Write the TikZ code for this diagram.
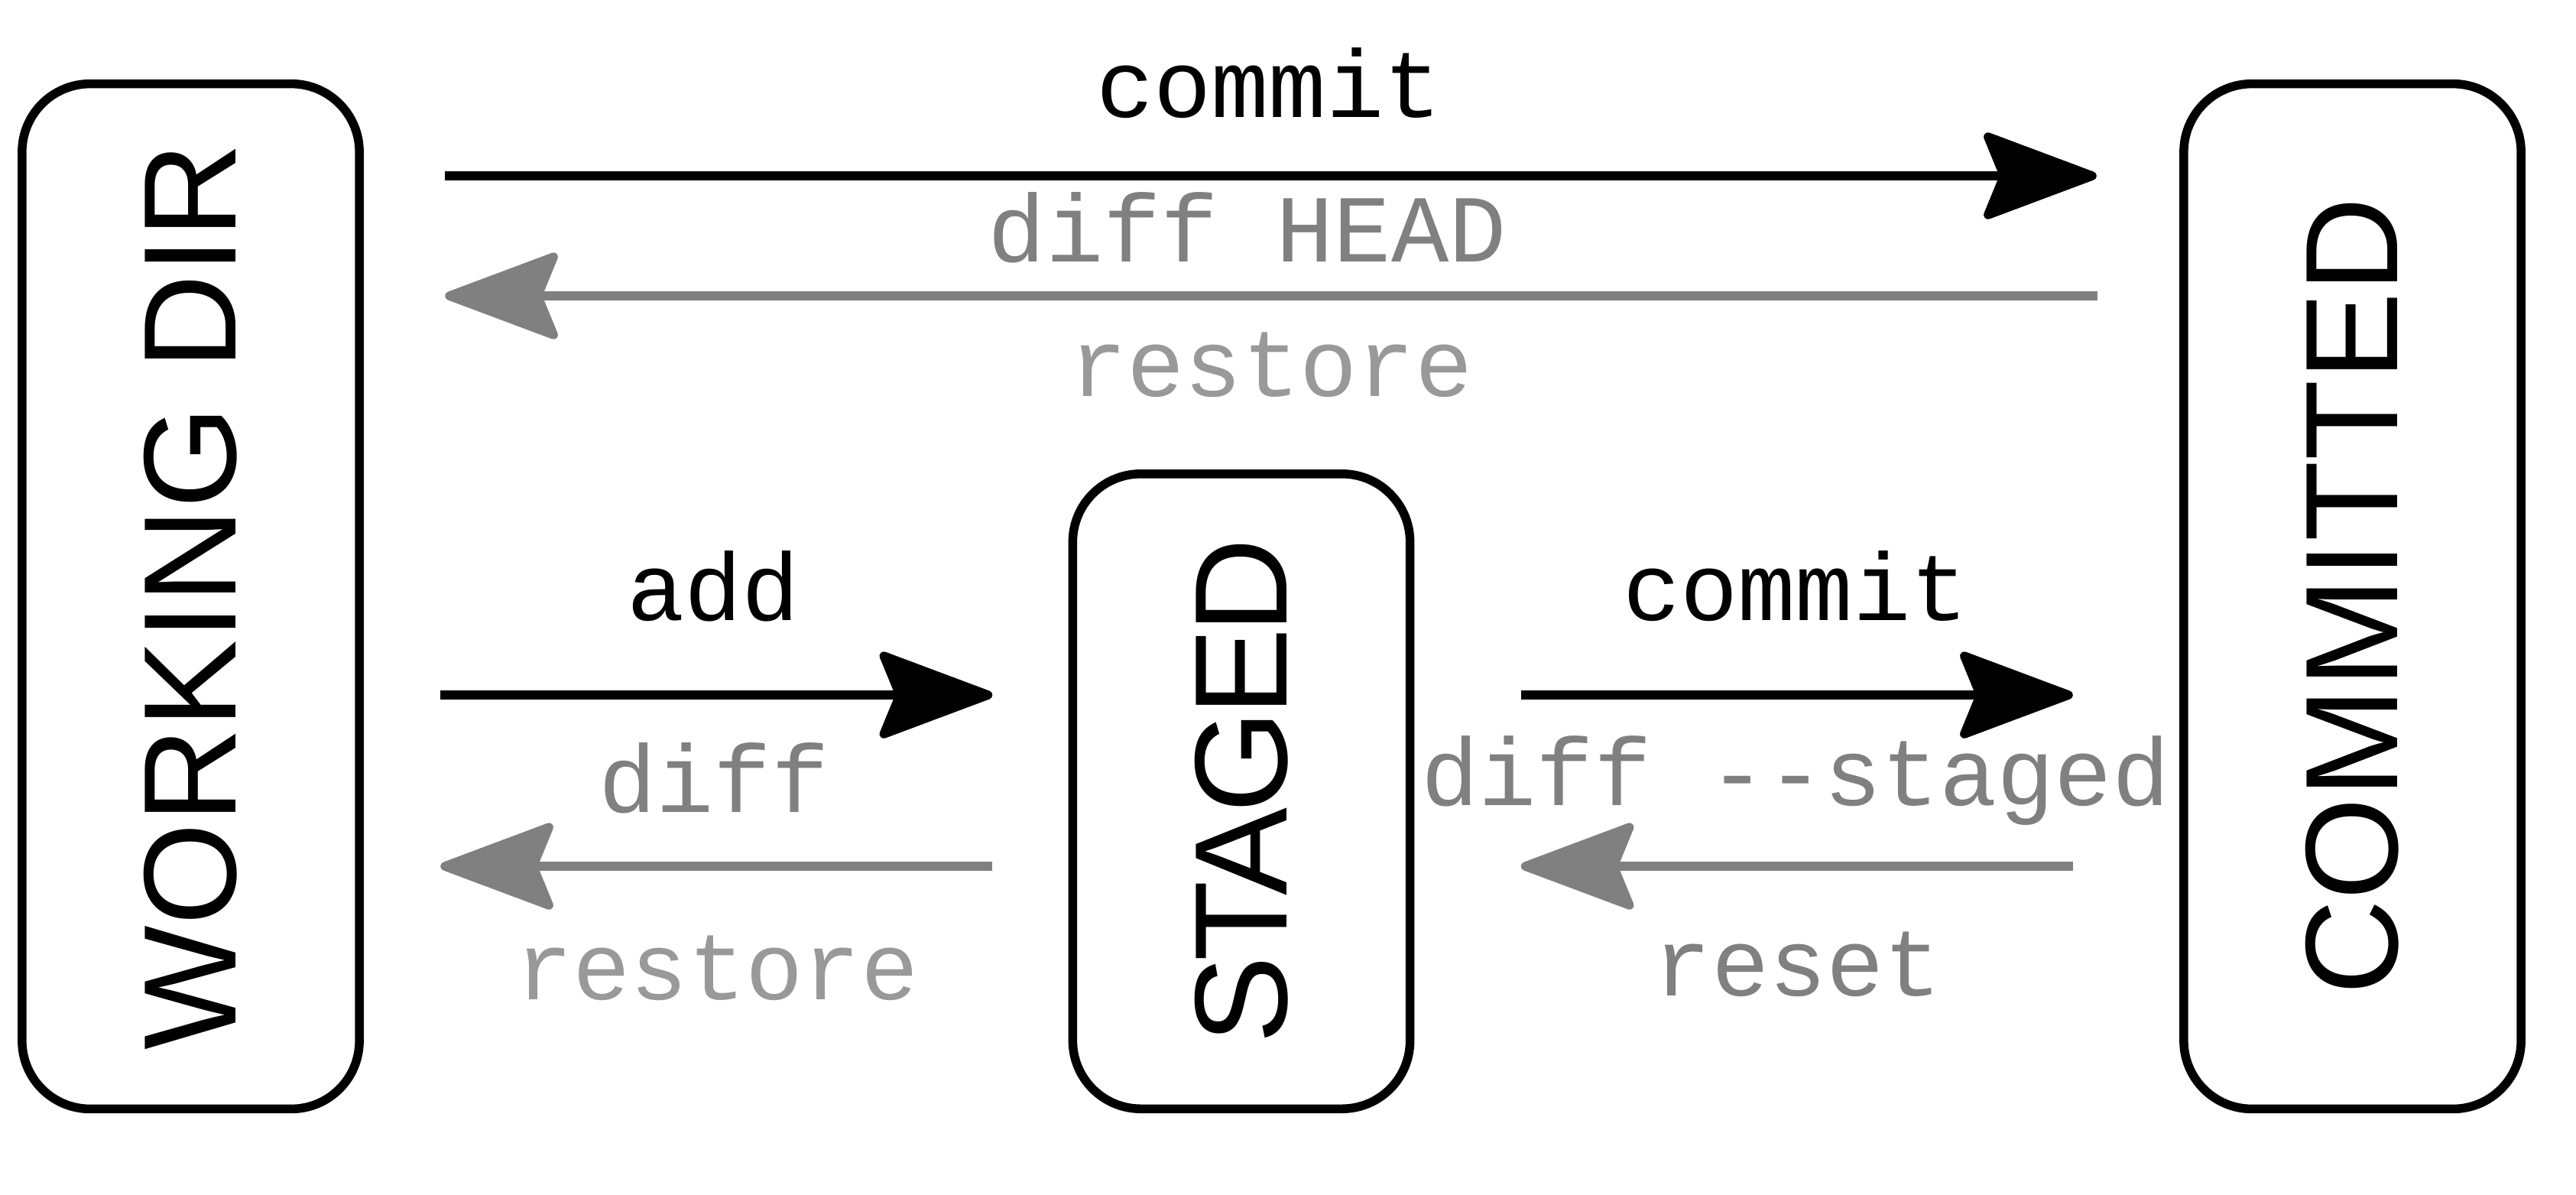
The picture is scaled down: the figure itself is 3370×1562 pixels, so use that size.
\documentclass[tikz,border=0pt]{standalone}
\usepackage{fontspec}
\usepackage{graphicx}
\setmainfont{Liberation Sans}
\setmonofont{Liberation Mono}
\usetikzlibrary{arrows.meta}
\definecolor{gA}{HTML}{808080}
\definecolor{gB}{HTML}{999999}
\begin{document}
\begin{tikzpicture}[x=0.01cm,y=-0.01cm,
  stagebox/.style={draw=black, line width=0.115cm, rounded corners=0.89cm, inner sep=0pt, outer sep=0pt,
    minimum width=4.41cm, font=\fontsize{49}{58}\selectfont},
  cmd/.style={anchor=base, inner sep=0pt, font=\ttfamily\fontsize{35.7}{42}\selectfont},
  tipd/.style={-{Stealth[length=1.62cm,width=1.2cm,inset=0.24cm,round]}},
  fwd/.style={tipd, draw=black, line width=0.115cm},
  bwd/.style={tipd, draw=gA, line width=0.115cm}]
\useasboundingbox (0,0) rectangle (3370,1562);

\node[stagebox, minimum height=13.4cm] (wd) at (249.5,780) {\rotatebox{90}{WORKING DIR}};
\node[stagebox, minimum height=8.3cm] (st) at (1624,1035) {\rotatebox{90}{\addfontfeature{LetterSpace=-4}STAGED}};
\node[stagebox, minimum height=13.4cm] (cm) at (3077.5,780) {\rotatebox{90}{COMMITTED}};

\coordinate (y1) at (0,230);
\coordinate (y2) at (0,387);
\coordinate (y3) at (0,909);
\coordinate (y4) at (0,1133);

\draw[fwd, shorten <=1.12cm, shorten >=1.14cm] (wd.east |- y1) -- (cm.west |- y1);
\draw[bwd, shorten <=1.13cm, shorten >=1.12cm] (cm.west |- y2) -- (wd.east |- y2);
\draw[fwd, shorten <=1.06cm, shorten >=1.05cm] (wd.east |- y3) -- (st.west |- y3);
\draw[bwd, shorten <=1.05cm, shorten >=1.06cm] (st.west |- y4) -- (wd.east |- y4);
\draw[fwd, shorten <=1.45cm, shorten >=1.45cm] (st.east |- y3) -- (cm.west |- y3);
\draw[bwd, shorten <=1.45cm, shorten >=1.45cm] (cm.west |- y4) -- (st.east |- y4);

\node[cmd, text=black] (l1) at (1660,153) {commit};
\node[cmd, text=gA] (l2) at (1632,342) {diff HEAD};
\node[cmd, text=gB] (l3) at (1663,518) {restore};
\node[cmd, text=black] (l4) at (933,811) {add};
\node[cmd, text=gA] (l5) at (934,1062) {diff};
\node[cmd, text=gB] (l6) at (938,1307) {restore};
\node[cmd, text=black] (l7) at (2349,811) {commit};
\node[cmd, text=gA] (l8) at (2349,1053) {diff -{}-staged};
\node[cmd, text=gA] (l9) at (2352,1302) {reset};
\end{tikzpicture}
\end{document}
